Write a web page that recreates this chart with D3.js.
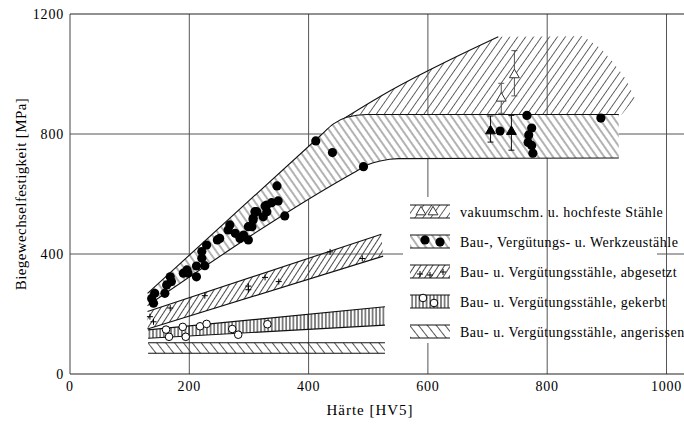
<!DOCTYPE html>
<html>
<head>
<meta charset="utf-8">
<script src="https://cdn.jsdelivr.net/npm/d3@7"></script>
<style>
  body { margin: 0; background: #fff; }
  text { font-family: "Liberation Serif", "DejaVu Serif", serif; fill: #000; }
</style>
</head>
<body>
<svg id="chart" width="684" height="430"></svg>
<script>
// Axis ticks
const hvTicks = [0, 200, 400, 600, 800, 1000];
const mpaTicks = [0, 400, 800, 1200];

// Scatter bands: edges as [Härte HV5, Biegewechselfestigkeit MPa]
const bauUpper = [[130, 269], [420, 795], [441, 833], [464, 856], [497, 865], [920, 865]];
const bauLower = [[130, 228], [480, 676], [500, 698], [520, 710], [550, 718], [920, 720]];
const vakUpper = [[458, 850], [520, 925], [718, 1124]];
const vakOuter = [[718, 1124], [860, 1126], [890, 1085], [912, 1035], [933, 980], [947, 918], [925, 865]];
const abgUpper = [[130, 208], [522, 466]];
const abgLower = [[130, 150], [525, 393]];
const gekUpper = [[131, 147], [528, 224]];
const gekLower = [[131, 119], [528, 163]];
const angUpper = [[131, 104], [528, 104]];
const angLower = [[131, 69], [528, 69]];

// Measured points
const bauPoints = [
  [137, 252], [140, 236], [142, 269], [159, 269], [162, 297], [168, 324], [170, 308],
  [190, 336], [196, 347], [198, 336], [212, 324], [212, 360], [221, 386], [221, 408],
  [226, 361], [229, 430], [247, 447], [251, 452], [265, 480], [268, 497], [277, 469],
  [285, 452], [291, 463], [299, 447], [299, 491], [305, 491], [307, 513], [307, 519],
  [310, 541], [313, 541], [324, 524], [327, 560], [330, 541], [330, 563], [338, 571],
  [347, 627], [349, 577], [360, 527], [412, 777], [440, 738], [492, 691],
  [721, 810], [766, 862], [774, 820], [769, 797], [768, 772], [774, 762], [776, 736], [890, 853]
];
const abgPoints = [[134, 191], [140, 174], [168, 220], [226, 261], [299, 293], [299, 281],
  [327, 322], [350, 308], [436, 407], [490, 385]];
const gekPoints = [[161, 148], [166, 124], [189, 157], [194, 124], [218, 159], [229, 167],
  [272, 150], [282, 131], [331, 166]];
// Triangles with scatter range: [HV, MPa, min, max]
const vakOpen = [[723, 919, 869, 969], [745, 997, 927, 1078]];
const vakFilled = [[705, 810, 773, 860], [740, 808, 746, 862]];

const legendLabels = [
  "vakuumschm. u. hochfeste Stähle",
  "Bau-, Vergütungs- u. Werkzeustähle",
  "Bau- u. Vergütungsstähle, abgesetzt",
  "Bau- u. Vergütungsstähle, gekerbt",
  "Bau- u. Vergütungsstähle, angerissen"
];

const svg = d3.select("#chart");
const x = d3.scaleLinear().domain([0, 1000]).range([70, 666.5]);
const y = d3.scaleLinear().domain([0, 1200]).range([374, 14]);
const xEnd = 1040;

const defs = svg.append("defs");
function hatch(id, spacing, angle, color, w) {
  const p = defs.append("pattern").attr("id", id)
    .attr("patternUnits", "userSpaceOnUse")
    .attr("width", spacing).attr("height", spacing)
    .attr("patternTransform", `rotate(${angle})`);
  p.append("line").attr("x1", spacing / 2).attr("x2", spacing / 2)
    .attr("y1", -1).attr("y2", spacing + 1)
    .attr("stroke", color).attr("stroke-width", w);
}
hatch("h-bau", 6, -35, "#555", 0.9);
hatch("h-vak", 6.5, 35, "#555", 0.9);
hatch("h-abg", 5, 33, "#333", 0.9);
hatch("h-gek", 3.6, 0, "#111", 1);
hatch("h-ang", 7, -38, "#444", 0.9);

const lineM = d3.line().x(d => x(d[0])).y(d => y(d[1])).curve(d3.curveMonotoneX);
const lineL = d3.line().x(d => x(d[0])).y(d => y(d[1]));
function bandPath(up, lo, gen) {
  return gen(up) + "L" + gen(lo.slice().reverse()).slice(1) + "Z";
}

// Grid
const grid = svg.append("g");
grid.selectAll("line.h").data(mpaTicks.filter(v => v > 0 && v < 1200)).join("line")
  .attr("x1", x(0)).attr("x2", x(xEnd)).attr("y1", d => y(d)).attr("y2", d => y(d))
  .attr("stroke", "#555").attr("stroke-width", 1);
grid.selectAll("line.v").data(hvTicks.filter(v => v > 0 && v < 700)).join("line")
  .attr("x1", d => x(d)).attr("x2", d => x(d)).attr("y1", y(0)).attr("y2", y(1200))
  .attr("stroke", "#555").attr("stroke-width", 1);

// Legend backdrop hides the grid behind the key
const legX = 410, legTop = 205, legPitch = 30, legW = 40, legH = 13;
svg.append("rect").attr("x", 403).attr("y", 197).attr("width", 254).attr("height", 146).attr("fill", "#fff");

const grid2 = svg.append("g");
grid2.selectAll("line").data(hvTicks.filter(v => v > 700)).join("line")
  .attr("x1", d => x(d)).attr("x2", d => x(d)).attr("y1", y(0)).attr("y2", y(1200))
  .attr("stroke", "#555").attr("stroke-width", 1);

// Frame
svg.append("line").attr("x1", x(0)).attr("x2", x(xEnd)).attr("y1", y(1200)).attr("y2", y(1200)).attr("stroke", "#222");
svg.append("line").attr("x1", x(0)).attr("x2", x(xEnd)).attr("y1", y(0)).attr("y2", y(0)).attr("stroke", "#222");
svg.append("line").attr("x1", x(0)).attr("x2", x(0)).attr("y1", y(0)).attr("y2", y(1200)).attr("stroke", "#444");

// Bands
const bands = svg.append("g");
// vakuum region: hatch only, upper-left edge stroked
const vakPoly = lineM(vakUpper) + "L" + lineL(vakOuter).slice(1) + "L" +
  lineM(bauUpper.filter(d => d[0] >= 458).concat([[458, 850]]).reverse()).slice(1) + "Z";
bands.append("path").attr("d", vakPoly).attr("fill", "url(#h-vak)");
bands.append("path").attr("d", lineM(vakUpper)).attr("fill", "none").attr("stroke", "#111").attr("stroke-width", 1.1);

const bauPoly = bandPath(bauUpper, bauLower, lineM);
bands.append("path").attr("d", bauPoly).attr("fill", "#fff");
bands.append("path").attr("d", bauPoly).attr("fill", "url(#h-bau)");
[bauUpper, bauLower].forEach(e => bands.append("path").attr("d", lineM(e)).attr("fill", "none").attr("stroke", "#111").attr("stroke-width", 1.1));

[[abgUpper, abgLower, "h-abg"], [gekUpper, gekLower, "h-gek"], [angUpper, angLower, "h-ang"]].forEach(([u, l, id]) => {
  bands.append("path").attr("d", bandPath(u, l, lineL)).attr("fill", `url(#${id})`);
  [u, l].forEach(e => bands.append("path").attr("d", lineL(e)).attr("fill", "none").attr("stroke", "#111").attr("stroke-width", 1.1));
});

// Markers
const tri = d3.symbol().type(d3.symbolTriangle).size(42);
function plusPath(cx, cy, s) { return `M${cx - s},${cy}H${cx + s}M${cx},${cy - s}V${cy + s}`; }
function drawDot(g, cx, cy) { g.append("circle").attr("cx", cx).attr("cy", cy).attr("r", 4.6).attr("fill", "#000"); }
function drawRing(g, cx, cy) { g.append("circle").attr("cx", cx).attr("cy", cy).attr("r", 3.8).attr("fill", "#fff").attr("stroke", "#000").attr("stroke-width", 1); }
function drawPlus(g, cx, cy) { g.append("path").attr("d", plusPath(cx, cy, 3)).attr("stroke", "#000").attr("stroke-width", 1); }
function drawTri(g, cx, cy, filled) {
  g.append("path").attr("d", tri()).attr("transform", `translate(${cx},${cy})`)
    .attr("fill", filled ? "#000" : "#fff").attr("stroke", filled ? "#000" : "#333").attr("stroke-width", 1);
}

const marks = svg.append("g");
bauPoints.forEach(d => drawDot(marks, x(d[0]), y(d[1])));
abgPoints.forEach(d => drawPlus(marks, x(d[0]), y(d[1])));
gekPoints.forEach(d => drawRing(marks, x(d[0]), y(d[1])));
vakOpen.concat(vakFilled).forEach((d, i) => {
  const cx = x(d[0]);
  const col = i < vakOpen.length ? "#555" : "#111";
  marks.append("path").attr("d", `M${cx},${y(d[2])}V${y(d[3])}M${cx - 3},${y(d[2])}H${cx + 3}M${cx - 3},${y(d[3])}H${cx + 3}`)
    .attr("stroke", col).attr("stroke-width", 1).attr("fill", "none");
});
vakOpen.forEach(d => drawTri(marks, x(d[0]), y(d[1]), false));
vakFilled.forEach(d => drawTri(marks, x(d[0]), y(d[1]), true));

// Legend
const leg = svg.append("g");
const swatchIds = ["h-vak", "h-bau", "h-abg", "h-gek", "h-ang"];
legendLabels.forEach((lab, i) => {
  const top = legTop + i * legPitch;
  const g = leg.append("g");
  g.append("rect").attr("x", legX).attr("y", top).attr("width", legW).attr("height", legH).attr("fill", `url(#${swatchIds[i]})`);
  g.append("line").attr("x1", legX).attr("x2", legX + legW).attr("y1", top).attr("y2", top).attr("stroke", "#111");
  g.append("line").attr("x1", legX).attr("x2", legX + legW).attr("y1", top + legH).attr("y2", top + legH).attr("stroke", "#111");
  if (i === 0) { drawTri(g, legX + 11, top + 7, false); drawTri(g, legX + 23, top + 7, false); }
  if (i === 1) { drawDot(g, legX + 15, top + 5); drawDot(g, legX + 30, top + 7); }
  if (i === 2) { drawPlus(g, legX + 10, top + 9); drawPlus(g, legX + 20, top + 10); drawPlus(g, legX + 33, top + 7); }
  if (i === 3) { drawRing(g, legX + 13, top + 3); drawRing(g, legX + 24, top + 8); }
  g.append("text").attr("x", 460).attr("y", top + 7).attr("dy", "0.35em")
    .style("font-size", "14px").style("letter-spacing", "0.5px").text(lab);
});

// Tick labels
svg.append("g").selectAll("text").data(hvTicks).join("text")
  .attr("x", d => x(d)).attr("y", 391).attr("text-anchor", "middle")
  .style("font-size", "14px").style("letter-spacing", "0.8px").text(d => d);
svg.append("g").selectAll("text").data(mpaTicks).join("text")
  .attr("x", 64).attr("y", d => y(d)).attr("dy", "0.35em").attr("text-anchor", "end")
  .style("font-size", "14px").style("letter-spacing", "0.8px").text(d => d);

// Axis titles
svg.append("text").attr("x", 370).attr("y", 415).attr("text-anchor", "middle")
  .style("font-size", "15px").style("letter-spacing", "1px").text("Härte [HV5]");
svg.append("text").attr("transform", "translate(26,194) rotate(-90)").attr("text-anchor", "middle")
  .style("font-size", "15px").style("letter-spacing", "0.4px").text("Biegewechselfestigkeit [MPa]");
</script>
</body>
</html>
